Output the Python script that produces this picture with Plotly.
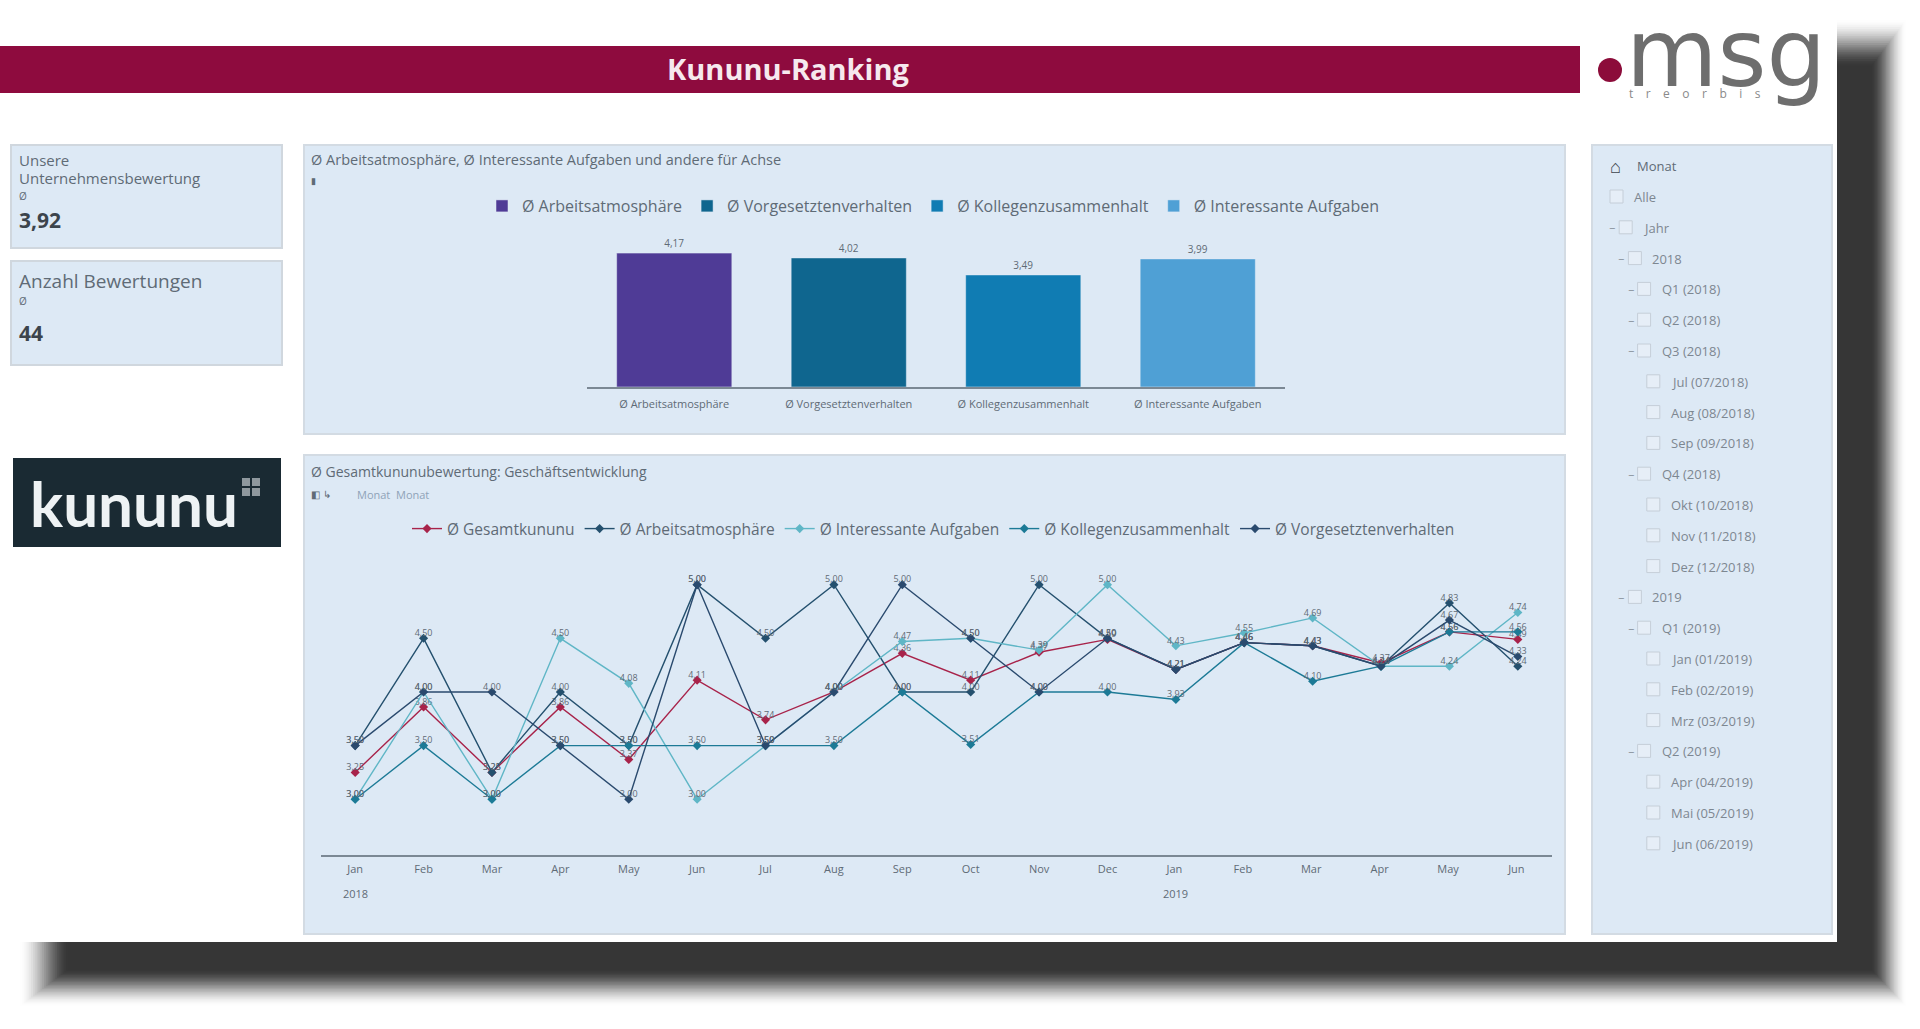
import plotly.graph_objects as go

W, H = 1920, 1029

# bar chart data
bar_categories = ['Ø Arbeitsatmosphäre', 'Ø Vorgesetztenverhalten', 'Ø Kollegenzusammenhalt', 'Ø Interessante Aufgaben']
bar_values = [4.17, 4.02, 3.49, 3.99]
bar_colors = ['#4f3b96', '#0f668f', '#107cb3', '#4fa0d5']

# line chart data, Jan 2018 - Jun 2019
months = ['Jan', 'Feb', 'Mar', 'Apr', 'May', 'Jun', 'Jul', 'Aug', 'Sep', 'Oct', 'Nov', 'Dec',
          'Jan ', 'Feb ', 'Mar ', 'Apr ', 'May ', 'Jun ']
gesamt = [3.25, 3.86, 3.25, 3.86, 3.37, 4.11, 3.74, 4.0, 4.36, 4.11, 4.37, 4.49, 4.21, 4.46, 4.43, 4.27, 4.56, 4.49]
arbeit = [3.5, 4.5, 3.25, 4.0, 3.5, 5.0, 4.5, 5.0, 4.0, 4.0, 5.0, 4.5, 4.21, 4.46, 4.43, 4.24, 4.83, 4.24]
aufgaben = [3.0, 4.0, 3.0, 4.5, 4.08, 3.0, 3.5, 4.0, 4.47, 4.5, 4.39, 5.0, 4.43, 4.55, 4.69, 4.24, 4.24, 4.74]
kollegen = [3.0, 3.5, 3.0, 3.5, 3.5, 3.5, 3.5, 3.5, 4.0, 3.51, 4.0, 4.0, 3.93, 4.46, 4.1, 4.24, 4.56, 4.56]
vorgesetzte = [3.5, 4.0, 4.0, 3.5, 3.0, 5.0, 3.5, 4.0, 5.0, 4.5, 4.0, 4.5, 4.21, 4.46, 4.43, 4.24, 4.67, 4.33]

line_names = ['Ø Gesamtkununu', 'Ø Arbeitsatmosphäre', 'Ø Interessante Aufgaben', 'Ø Kollegenzusammenhalt', 'Ø Vorgesetztenverhalten']
line_series = [gesamt, arbeit, aufgaben, kollegen, vorgesetzte]
line_colors = ['#a8234a', '#24506e', '#5fb6c6', '#1c7a96', '#2a4a6e']

# slicer rows: label and nesting depth
slicer_labels = ['Alle', 'Jahr', '2018', 'Q1 (2018)', 'Q2 (2018)', 'Q3 (2018)',
                 'Jul (07/2018)', 'Aug (08/2018)', 'Sep (09/2018)', 'Q4 (2018)',
                 'Okt (10/2018)', 'Nov (11/2018)', 'Dez (12/2018)', '2019', 'Q1 (2019)',
                 'Jan (01/2019)', 'Feb (02/2019)', 'Mrz (03/2019)', 'Q2 (2019)',
                 'Apr (04/2019)', 'Mai (05/2019)', 'Jun (06/2019)']
slicer_depth = [0, 1, 2, 3, 3, 3, 4, 4, 4, 3, 4, 4, 4, 2, 3, 4, 4, 4, 3, 4, 4, 4]

FONT = 'Open Sans'
GREY = '#5f6b76'
PANEL = '#dde9f5'


def fx(x):
    return x / W


def fy(y):
    return 1 - y / H


shapes = []
annotations = []


def box(x0, y0, x1, y1, fill, line=None, opacity=1, width=1):
    shapes.append(dict(type='rect', xref='paper', yref='paper', x0=fx(x0), x1=fx(x1), y0=fy(y1), y1=fy(y0),
                       fillcolor=fill, opacity=opacity, layer='below',
                       line=dict(color=line, width=width) if line else dict(width=0)))


def label(x, y, text, size=12, color=GREY, anchor='left', bold=False, family=FONT):
    annotations.append(dict(x=fx(x), y=fy(y), xref='paper', yref='paper', text=text, showarrow=False,
                            xanchor=anchor, yanchor='middle', align=anchor,
                            font=dict(size=size, color=color, family=family,
                                      weight='bold' if bold else 'normal')))


# soft drop shadow behind the page, smoothstep falloff
steps = 28
prev = 0
for i in range(steps):
    t = i / (steps - 1)
    u = (i + 1) / steps
    c = u * u * (3 - 2 * u)
    box(20 + 50 * t, 20 + 48 * t, 1906 - 36 * t, 1006 - 38 * t, '#363636', opacity=(c - prev) / (1 - prev))
    prev = c
box(0, 0, 1837, 942, '#ffffff')

# header
box(0, 46, 1580, 93, '#8e0b3e')
label(788, 68, 'Kununu-Ranking', size=29, color='#f6e9ee', anchor='center', bold=True)

# msg logo
shapes.append(dict(type='circle', xref='paper', yref='paper', x0=fx(1598), x1=fx(1622), y0=fy(82), y1=fy(58),
                   fillcolor='#8c0c3a', line=dict(width=0)))
label(1726, 54, 'msg', size=94, color='#6e6e6e', anchor='center', family='DejaVu Sans')
label(1627, 94, 't    r    e    o    r    b    i    s', size=12, color='#8a8a8a')

# panels
box(11, 145, 282, 248, PANEL, line='#d0d7de', width=2)
box(11, 261, 282, 365, PANEL, line='#d0d7de', width=2)
box(304, 145, 1565, 434, PANEL, line='#d3dbe3', width=2)
box(304, 455, 1565, 934, PANEL, line='#d3dbe3', width=2)
box(1592, 145, 1832, 934, PANEL, line='#d3dbe3', width=2)

# KPI cards
label(17, 160, 'Unsere', size=15)
label(17, 178, 'Unternehmensbewertung', size=15)
label(17, 196, 'Ø', size=10)
label(17, 220, '3,92', size=21, color='#3c444c', bold=True)
label(17, 281, 'Anzahl Bewertungen', size=19)
label(17, 301, 'Ø', size=10)
label(17, 333, '44', size=21, color='#3c444c', bold=True)

# kununu logo
box(13, 458, 281, 547, '#1a2a33')
label(28, 503, 'kununu', size=62, color='#eef2f4', bold=True, family='Lato')
for sx in (242, 252):
    for sy in (478, 488):
        box(sx, sy, sx + 8, sy + 8, '#8f989e')

# panel captions
label(309, 159, 'Ø Arbeitsatmosphäre, Ø Interessante Aufgaben und andere für Achse', size=14.5)
label(309, 181, '▮', size=9)
label(309, 471, 'Ø Gesamtkununubewertung: Geschäftsentwicklung', size=14)
label(309, 494, '◧ ↳', size=10)
label(355, 494, 'Monat  Monat', size=11, color='#8fa3b8')

# slicer
label(1635, 166, 'Monat', size=13)
label(1608, 166, '⌂', size=18, color='#3c444c', bold=True)
for i, (txt, depth) in enumerate(zip(slicer_labels, slicer_depth)):
    y = 197 + 30.8 * i
    bx = 1610 + 9.2 * depth
    box(bx, y - 7, bx + 13, y + 6, '#e6eef7', line='#c5ced8')
    label(bx + 22, y, txt, size=13, color='#7d8791')
    if depth in (1, 2, 3):
        label(bx - 12, y, '−', size=11, color='#7d8791')

fig = go.Figure()

# bars
for cat, val, col in zip(bar_categories, bar_values, bar_colors):
    fig.add_trace(go.Bar(x=[cat], y=[val], name=cat, marker_color=col, legend='legend2',
                         xaxis='x', yaxis='y', text=[val], texttemplate='%{y:.2f}', textposition='outside',
                         textfont=dict(size=10, color=GREY, family=FONT), cliponaxis=False))

# lines, with the value labels as a separate trace so the legend stays clean
for name, vals, col in zip(line_names, line_series, line_colors):
    fig.add_trace(go.Scatter(x=months, y=vals, name=name, mode='lines+markers', xaxis='x2', yaxis='y2',
                             line=dict(color=col, width=1.4), marker=dict(symbol='diamond', size=7, color=col),
                             legend='legend'))
    fig.add_trace(go.Scatter(x=months, y=vals, mode='text', xaxis='x2', yaxis='y2', showlegend=False,
                             text=vals, texttemplate='%{y:.2f}', textposition='top center',
                             textfont=dict(size=9, color=GREY, family=FONT)))

label(355, 893, '2018', size=11, anchor='center')
label(1175, 893, '2019', size=11, anchor='center')

fig.update_layout(
    width=W, height=H,
    margin=dict(l=0, r=0, t=0, b=0),
    paper_bgcolor='#ffffff', plot_bgcolor='rgba(0,0,0,0)',
    separators=',.',
    barmode='overlay', bargap=0.34,
    shapes=shapes, annotations=annotations,
    font=dict(family=FONT, color=GREY),
    xaxis=dict(domain=[fx(587), fx(1285)], anchor='y', showgrid=False, zeroline=False, ticklabelstandoff=6,
               showline=True, linecolor='#7b8894', linewidth=2, tickfont=dict(size=11, color=GREY), ticks=''),
    yaxis=dict(domain=[fy(387), fy(230)], anchor='x', range=[0, 4.89], visible=False),
    xaxis2=dict(domain=[fx(321), fx(1552)], anchor='y2', type='category', range=[-0.5, 17.5],
                showgrid=False, zeroline=False, showline=True, linecolor='#7b8894', linewidth=2,
                ticklabelstandoff=3, tickfont=dict(size=11, color=GREY), ticks=''),
    yaxis2=dict(domain=[fy(855), fy(560)], anchor='x2', range=[2.48, 5.23], visible=False),
    legend=dict(orientation='h', x=fx(407), y=fy(529), xanchor='left', yanchor='middle',
                font=dict(size=15.5, color=GREY), bgcolor='rgba(0,0,0,0)', itemwidth=30),
    legend2=dict(orientation='h', x=fx(482), y=fy(206), xanchor='left', yanchor='middle',
                 font=dict(size=16, color=GREY), bgcolor='rgba(0,0,0,0)', itemwidth=30),
)

fig.write_html('out.html', config={'displayModeBar': False},
               post_script="document.body.style.margin='0';")
